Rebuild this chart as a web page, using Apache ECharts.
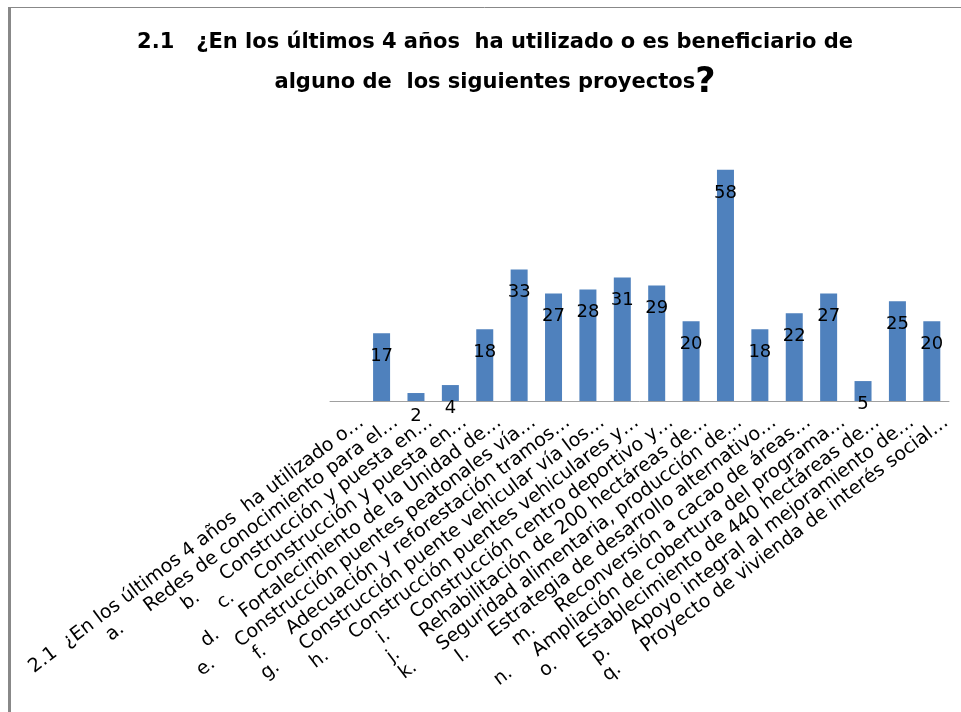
<!DOCTYPE html>
<html>
<head>
<meta charset="utf-8">
<script src="https://cdn.jsdelivr.net/npm/echarts@6/dist/echarts.min.js"></script>
<style>
html,body{margin:0;padding:0;background:#fff;}
#chart{width:961px;height:712px;}
</style>
</head>
<body>
<div id="chart"></div>
<script>
const titleLine1 = '2.1   ¿En los últimos 4 años  ha utilizado o es beneficiario de';
const titleLine2 = 'alguno de  los siguientes proyectos';

const categories = [
  '2.1  ¿En los últimos 4 años  ha utilizado o…',
  'a.     Redes de conocimiento para el…',
  'b.     Construcción y puesta en…',
  'c.     Construcción y puesta en…',
  'd.     Fortalecimiento de la Unidad de…',
  'e.     Construcción puentes peatonales vía…',
  'f.     Adecuación y reforestación tramos…',
  'g.     Construcción puente vehicular vía los…',
  'h.     Construcción puentes vehiculares y…',
  'i.     Construcción centro deportivo y…',
  'j.     Rehabilitación de 200 hectáreas de…',
  'k.     Seguridad alimentaria, producción de…',
  'l.     Estrategia de desarrollo alternativo…',
  'm.     Reconversión a cacao de áreas…',
  'n.     Ampliación de cobertura del programa…',
  'o.     Establecimiento de 440 hectáreas de…',
  'p.     Apoyo integral al mejoramiento de…',
  'q.     Proyecto de vivienda de interés social…'
];

const values = [null, 17, 2, 4, 18, 33, 27, 28, 31, 29, 20, 58, 18, 22, 27, 5, 25, 20];

const chart = echarts.init(document.getElementById('chart'));
chart.setOption({
  animation: false,
  backgroundColor: '#ffffff',
  title: {
    text: titleLine1 + '\n' + titleLine2 + '{q|?}',
    left: 490,
    top: 18,
    textAlign: 'center',
    textStyle: {
      fontFamily: 'DejaVu Sans',
      fontWeight: 'bold',
      fontSize: 21,
      color: '#000',
      lineHeight: 40,
      rich: {
        q: { fontFamily: 'DejaVu Sans', fontWeight: 'bold', fontSize: 35, color: '#000', lineHeight: 40 }
      }
    }
  },
  graphic: [
    { type: 'line', shape: { x1: 8, y1: 7.5, x2: 961, y2: 7.5 }, style: { stroke: '#888888', lineWidth: 1 } },
    { type: 'line', shape: { x1: 9.5, y1: 7, x2: 9.5, y2: 712 }, style: { stroke: '#888888', lineWidth: 3 } }
  ],
  grid: { left: 330, right: 12, top: 122, bottom: 311, outerBoundsMode: 'none', containLabel: false },
  xAxis: {
    type: 'category',
    data: categories,
    axisLine: { show: true, lineStyle: { color: '#a0a0a0', width: 1 } },
    axisTick: { show: false },
    axisLabel: {
      interval: 0,
      rotate: 37,
      margin: 0,
      verticalAlign: 'top',
      lineHeight: 48,
      fontFamily: 'DejaVu Sans',
      fontSize: 19,
      color: '#000'
    }
  },
  yAxis: {
    type: 'value',
    min: 0,
    max: 70,
    show: false,
    splitLine: { show: false }
  },
  series: [{
    type: 'bar',
    data: values,
    barWidth: 17,
    itemStyle: { color: '#4F81BD' },
    label: {
      show: true,
      position: ['50%', 23],
      align: 'center',
      verticalAlign: 'middle',
      fontFamily: 'DejaVu Sans',
      fontSize: 18,
      color: '#000'
    }
  }]
});
</script>
</body>
</html>
